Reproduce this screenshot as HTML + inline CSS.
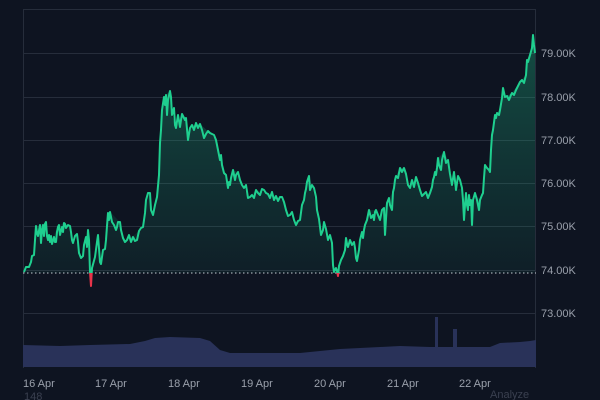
<!DOCTYPE html>
<html><head><meta charset="utf-8"><style>
html,body{margin:0;padding:0;background:#0e1421;width:600px;height:400px;overflow:hidden}
svg{display:block;font-family:"Liberation Sans",sans-serif}
</style></head><body>
<svg width="600" height="400" viewBox="0 0 600 400">
<defs>
<linearGradient id="g" x1="0" x2="0" gradientUnits="userSpaceOnUse" y1="40" y2="273">
<stop offset="0" stop-color="#1fc28a" stop-opacity="0.32"/>
<stop offset="1" stop-color="#1fc28a" stop-opacity="0.06"/>
</linearGradient>
<clipPath id="above"><rect x="0" y="0" width="600" height="273"/></clipPath>
<clipPath id="below"><rect x="0" y="273" width="600" height="30"/></clipPath>
<path id="ln" d="M24,272 L26,267 L29,267 L31,262 L32,256 L34,255 L35,240 L36,226 L37,233 L38,236 L40,225 L41,243 L42,230 L43,225 L44,236 L45,224 L46,222 L47,236 L48,240 L49,235 L50,242 L51,236 L52,244 L54,237 L55,242 L56,242 L57,232 L58,227 L59,225 L60,235 L62,227 L63,232 L64,223 L65,224 L66,228 L68,225 L70,226 L71,232 L72,240 L73,243 L75,236 L77,234 L78,242 L79,253 L81,258 L83,256 L84,245 L86,237 L87,247 L88,230 L89,240 L90,272 L91,286 L92,268 L95,257 L97,242 L98,235 L100,262 L101,264 L103,250 L105,249 L106,240 L107,226 L108,213 L109,220 L110,212 L112,222 L114,225 L116,230 L117,227 L118,222 L120,222 L121,230 L123,238 L125,242 L127,240 L129,235 L131,242 L133,237 L135,241 L137,240 L139,231 L141,228 L143,227 L145,213 L146,200 L148,193 L150,193 L151,210 L153,215 L155,205 L157,197 L159,175 L160,143 L161,130 L162,110 L164,97 L165,105 L166,95 L167,115 L168,100 L170,91 L171,97 L172,115 L174,108 L175,125 L176,128 L178,115 L180,127 L181,120 L182,114 L185,120 L186,118 L188,140 L190,128 L192,125 L194,130 L196,123 L198,128 L200,124 L202,130 L204,138 L206,134 L208,131 L210,133 L214,135 L216,140 L218,150 L220,160 L221,155 L222,165 L224,173 L226,175 L228,188 L229,182 L230,185 L231,178 L233,170 L235,180 L236,175 L238,172 L240,180 L242,185 L244,188 L246,185 L248,198 L250,197 L252,195 L254,198 L256,190 L258,193 L260,195 L262,189 L264,190 L266,193 L268,194 L270,198 L272,192 L274,200 L276,196 L278,201 L280,197 L282,197 L284,202 L286,210 L288,216 L290,215 L292,212 L294,220 L296,225 L298,221 L300,220 L302,205 L304,200 L305,193 L306,189 L307,182 L309,176 L310,190 L312,185 L314,188 L316,197 L317,210 L319,219 L321,235 L323,230 L324,222 L326,229 L328,240 L330,235 L332,243 L333,265 L334,272 L336,268 L337,271 L338,276 L339,266 L341,260 L343,256 L345,250 L346,238 L347,244 L348,247 L350,240 L352,245 L354,242 L355,248 L356,258 L357,261 L359,250 L360,240 L362,232 L363,238 L364,230 L365,225 L367,220 L369,210 L371,218 L373,215 L374,220 L375,212 L376,210 L378,215 L380,220 L382,210 L384,208 L385,235 L387,203 L389,198 L390,205 L392,210 L393,192 L394,188 L395,180 L396,176 L398,178 L400,168 L402,172 L404,168 L406,174 L408,185 L410,188 L412,180 L414,187 L416,177 L418,183 L420,190 L422,196 L424,194 L426,192 L428,198 L430,193 L432,187 L433,180 L434,177 L435,172 L436,175 L437,168 L438,158 L439,165 L441,170 L442,160 L444,152 L446,163 L448,160 L450,174 L452,185 L454,172 L456,190 L458,176 L460,180 L462,188 L463,200 L464,220 L465,205 L466,193 L467,205 L468,210 L469,195 L470,205 L471,200 L472,225 L473,200 L475,193 L477,200 L478,205 L479,210 L480,200 L482,195 L483,193 L484,178 L485,165 L487,168 L489,170 L490,172 L491,150 L492,135 L493,130 L495,115 L496,118 L497,113 L499,115 L500,110 L502,98 L503,88 L505,97 L507,96 L509,100 L511,95 L512,93 L514,95 L516,90 L518,86 L520,82 L522,80 L524,83 L526,75 L527,60 L528,62 L530,55 L532,48 L533,35 L534,45 L535,53"/>
</defs>
<rect width="600" height="400" fill="#0e1421"/>
<g stroke="#262d3b" stroke-width="1">
<line x1="23" y1="9.5" x2="536" y2="9.5"/>
<line x1="23" y1="53.5" x2="536" y2="53.5"/>
<line x1="23" y1="97.5" x2="536" y2="97.5"/>
<line x1="23" y1="140.5" x2="536" y2="140.5"/>
<line x1="23" y1="183.5" x2="536" y2="183.5"/>
<line x1="23" y1="226.5" x2="536" y2="226.5"/>
<line x1="23" y1="270.5" x2="536" y2="270.5"/>
<line x1="23" y1="313.5" x2="536" y2="313.5"/>
<line x1="23.5" y1="9" x2="23.5" y2="368"/>
<line x1="535.5" y1="9" x2="535.5" y2="368"/>
</g>
<g font-size="11" fill="#9aa0ab">
<text x="541" y="57">79.00K</text>
<text x="541" y="101">78.00K</text>
<text x="541" y="144">77.00K</text>
<text x="541" y="187">76.00K</text>
<text x="541" y="230">75.00K</text>
<text x="541" y="274">74.00K</text>
<text x="541" y="317">73.00K</text>
<text x="23" y="387">16 Apr</text>
<text x="95" y="387">17 Apr</text>
<text x="168" y="387">18 Apr</text>
<text x="241" y="387">19 Apr</text>
<text x="314" y="387">20 Apr</text>
<text x="387" y="387">21 Apr</text>
<text x="459" y="387">22 Apr</text>
</g>
<text x="24" y="400" font-size="11" fill="#3a4050">148</text>
<text x="490" y="398" font-size="11" fill="#3a4050">Analyze</text>
<path fill="#293259" d="M23,367 L23,345 L60,346 L90,345 L130,344 L145,341 L155,338 L170,337 L200,338 L210,341 L220,350 L230,353 L300,353 L320,351 L340,349 L380,347 L400,346 L430,347 L435,347 L435,317 L438,317 L438,347 L453,347 L453,329 L457,329 L457,347 L490,347 L500,343 L520,342 L530,341 L536,340 L536,367 Z"/>
<line x1="23" y1="273" x2="536" y2="273" stroke="#c8ccd4" stroke-width="1" stroke-dasharray="1.5,2.5"/>
<path clip-path="url(#above)" fill="url(#g)" d="M24,273 L24,272 L26,267 L29,267 L31,262 L32,256 L34,255 L35,240 L36,226 L40,225 L46,222 L50,242 L59,225 L64,223 L70,226 L73,243 L78,242 L81,258 L86,237 L88,230 L90,272 L92,268 L97,242 L98,235 L101,264 L106,240 L108,213 L110,212 L120,222 L125,242 L139,231 L143,227 L146,200 L148,193 L150,193 L153,215 L157,197 L160,143 L162,110 L164,97 L166,95 L170,91 L172,115 L176,128 L182,114 L186,118 L188,140 L192,125 L200,124 L210,133 L216,140 L222,165 L228,188 L233,170 L238,172 L248,198 L256,190 L266,193 L276,196 L284,202 L288,216 L296,225 L300,220 L304,200 L309,176 L312,185 L317,210 L321,235 L324,222 L328,240 L332,243 L334,272 L338,276 L343,256 L346,238 L354,242 L357,261 L362,232 L369,210 L376,210 L380,220 L384,208 L389,198 L393,192 L396,176 L400,168 L404,168 L410,188 L416,177 L422,196 L430,193 L435,172 L438,158 L444,152 L448,160 L452,185 L456,190 L462,188 L464,220 L466,193 L472,225 L475,193 L480,200 L483,193 L485,165 L490,172 L492,135 L495,115 L500,110 L503,88 L505,97 L512,93 L520,82 L526,75 L527,60 L532,48 L533,35 L535,53 L535,273 Z"/>
<use href="#ln" clip-path="url(#above)" fill="none" stroke="#1fcf8f" stroke-width="2" stroke-linejoin="round"/>
<use href="#ln" clip-path="url(#below)" fill="none" stroke="#e8344a" stroke-width="2" stroke-linejoin="round"/>
</svg>
</body></html>
